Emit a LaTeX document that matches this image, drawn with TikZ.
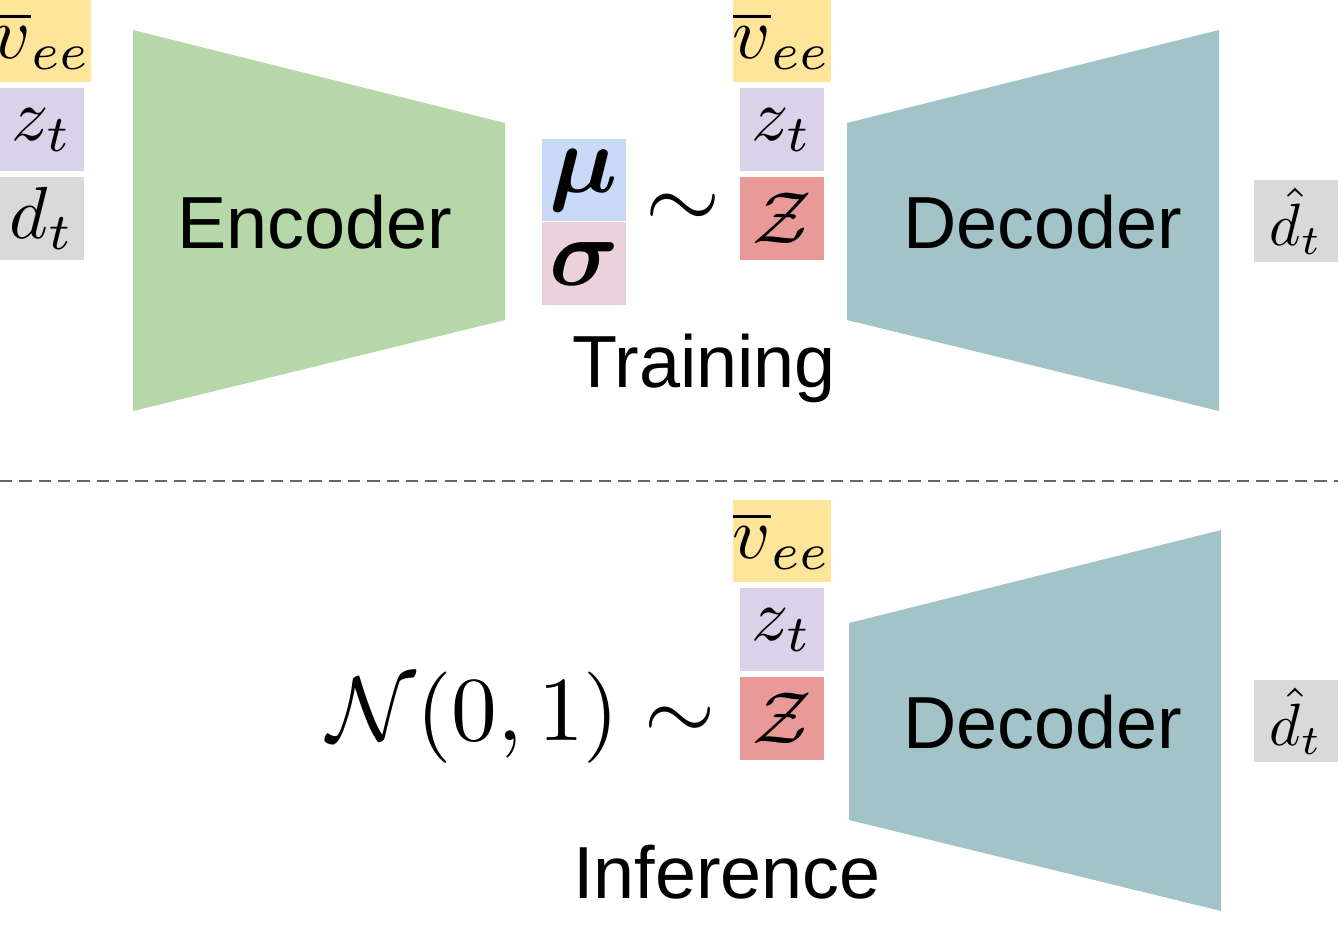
\documentclass[tikz,border=0pt]{standalone}
\usepackage{amsmath}
\usepackage{amssymb}
\usepackage{fontspec}
\setmainfont{Liberation Sans}
\usepackage{tikz}
\usetikzlibrary{positioning}
\definecolor{cyel}{HTML}{FFE599}
\definecolor{cpur}{HTML}{D9D2E9}
\definecolor{cgry}{HTML}{D9D9D9}
\definecolor{cblu}{HTML}{C9DAF8}
\definecolor{cpnk}{HTML}{EAD1DC}
\definecolor{cred}{HTML}{EA9999}
\definecolor{cgrn}{HTML}{B6D7A8}
\definecolor{cteal}{HTML}{A2C4C9}
\newcommand{\mbx}[2]{\scalebox{#1}{$#2$}}
\tikzset{
  cell/.style={minimum width=1.68cm,minimum height=1.66cm,inner sep=0pt},
  big/.style={font=\fontsize{42}{42}\selectfont},
}
\begin{document}
\begin{tikzpicture}[x=0.02cm,y=-0.02cm]
      \useasboundingbox (0,0) rectangle (1338,925);
      % training
      \node [cell,fill=cyel] (vee1) at (42,41) {\mbx{4.2}{\overline{v}_{ee}}};
      \node [cell,fill=cpur,below=0.1cm of vee1] (zt1) {\mbx{4.2}{z_t}};
      \node [cell,fill=cgry,below=0.1cm of zt1] (dt1) {\mbx{4.2}{d_t}};

      \fill [cgrn] (133,30) -- (505,123) -- (505,320) -- (133,411) -- cycle;
      \node [big] (enc) at (315,222) {Encoder};

      \node [cell,fill=cblu] (mu) at (584,180) {\mbx{5.5}{\boldsymbol{\mu}}};
      \node [cell,fill=cpnk,below=0cm of mu] (sig) {\mbx{5.5}{\boldsymbol{\sigma}}};
      \node (tl1) at (683,212) {\mbx{5.5}{\sim}};

      \node [cell,fill=cyel] (vee2) at (782,41) {\mbx{4.2}{\overline{v}_{ee}}};
      \node [cell,fill=cpur,below=0.1cm of vee2] (zt2) {\mbx{4.2}{z_t}};
      \node [cell,fill=cred,below=0.1cm of zt2] (z2) {\mbx{4.2}{\mathcal{Z}}};

      \fill [cteal] (847,123) -- (1219,30) -- (1219,411) -- (847,320) -- cycle;
      \node [big] (dec1) at (1043,222) {Decoder};
      \node [cell,fill=cgry] (dh1) at (1296,221) {\mbx{3.4}{\hat{d}_t}};
      \node [big] (train) at (704,368) {Training};

      \draw [dashed,thick,color=gray!80!black,dash pattern=on 7pt off 4pt] (0,481) -- (1338,481);

      % inference
      \node [cell,fill=cyel] (vee3) at (782,541) {\mbx{4.2}{\overline{v}_{ee}}};
      \node [cell,fill=cpur,below=0.1cm of vee3] (zt3) {\mbx{4.2}{z_t}};
      \node [cell,fill=cred,below=0.1cm of zt3] (z3) {\mbx{4.2}{\mathcal{Z}}};

      \fill [cteal] (849,623) -- (1221,530) -- (1221,911) -- (849,820) -- cycle;
      \node [big] (dec2) at (1043,722) {Decoder};
      \node [cell,fill=cgry] (dh2) at (1296,721) {\mbx{3.4}{\hat{d}_t}};
      \node [anchor=east,inner sep=0pt] (norm) at (716,718) {\mbx{5.2}{\mathcal{N}(0,1)\sim}};
      \node [big] (inf) at (727,872) {Inference};
\end{tikzpicture}
\end{document}
